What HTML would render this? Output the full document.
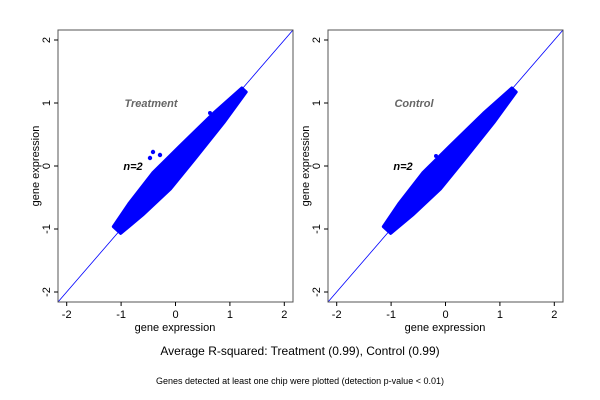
<!DOCTYPE html><html><head><style>body{margin:0;background:#fff}svg{display:block}text{font-family:"Liberation Sans",sans-serif}</style></head><body>
<svg width="600" height="400" viewBox="0 0 600 400">
<defs>
<clipPath id="c1"><rect x="58" y="30" width="235" height="272"/></clipPath>
<clipPath id="c2"><rect x="328" y="30" width="235" height="272"/></clipPath>
<g id="cloud">
<polygon fill="#0000ff" stroke="#0000ff" stroke-width="3" stroke-linejoin="round" points="113.3,226.6 129.3,203 152.6,173 179.5,146.3 213.4,113.3 241.8,88 246.2,92 223.8,122.7 194.3,159.7 170.4,189 142.7,215 120.7,233.4"/>
</g>
</defs>
<g font-size="11">
<!-- panel 1 -->
<line x1="58" y1="302" x2="293" y2="30" stroke="#0000ff" stroke-width="0.8" clip-path="url(#c1)"/>
<use href="#cloud"/>
<circle cx="150" cy="158" r="2.2" fill="#00f"/><circle cx="153" cy="152" r="2.2" fill="#00f"/><circle cx="160" cy="155" r="2.2" fill="#00f"/><circle cx="210" cy="113" r="2" fill="#00f"/>
<rect x="58" y="30" width="235" height="272" fill="none" stroke="#555"/>
<g stroke="#000"><line x1="66.7" y1="302" x2="66.7" y2="306"/><line x1="121.1" y1="302" x2="121.1" y2="306"/><line x1="175.5" y1="302" x2="175.5" y2="306"/><line x1="229.9" y1="302" x2="229.9" y2="306"/><line x1="284.3" y1="302" x2="284.3" y2="306"/>
<line x1="58" y1="40" x2="54" y2="40"/><line x1="58" y1="103" x2="54" y2="103"/><line x1="58" y1="166" x2="54" y2="166"/><line x1="58" y1="229" x2="54" y2="229"/><line x1="58" y1="292" x2="54" y2="292"/></g>
<g text-anchor="middle"><text x="66.7" y="318">-2</text><text x="121.1" y="318">-1</text><text x="175.5" y="318">0</text><text x="229.9" y="318">1</text><text x="284.3" y="318">2</text></g>
<g text-anchor="middle"><text transform="translate(50,40) rotate(-90)">2</text><text transform="translate(50,103) rotate(-90)">1</text><text transform="translate(50,166) rotate(-90)">0</text><text transform="translate(50,229) rotate(-90)">-1</text><text transform="translate(50,292) rotate(-90)">-2</text></g>
<text x="175" y="331" text-anchor="middle">gene expression</text>
<text transform="translate(39,166) rotate(-90)" text-anchor="middle">gene expression</text>
<text x="151" y="107" text-anchor="middle" font-weight="bold" font-style="italic" fill="#666">Treatment</text>
<text x="133" y="170" text-anchor="middle" font-weight="bold" font-style="italic">n=2</text>

<!-- panel 2 -->
<line x1="328" y1="302" x2="563" y2="30" stroke="#0000ff" stroke-width="0.8" clip-path="url(#c2)"/>
<use href="#cloud" transform="translate(270,0)"/>
<circle cx="436" cy="156" r="2" fill="#00f"/>
<rect x="328" y="30" width="235" height="272" fill="none" stroke="#555"/>
<g stroke="#000"><line x1="336.7" y1="302" x2="336.7" y2="306"/><line x1="391.1" y1="302" x2="391.1" y2="306"/><line x1="445.5" y1="302" x2="445.5" y2="306"/><line x1="499.9" y1="302" x2="499.9" y2="306"/><line x1="554.3" y1="302" x2="554.3" y2="306"/>
<line x1="328" y1="40" x2="324" y2="40"/><line x1="328" y1="103" x2="324" y2="103"/><line x1="328" y1="166" x2="324" y2="166"/><line x1="328" y1="229" x2="324" y2="229"/><line x1="328" y1="292" x2="324" y2="292"/></g>
<g text-anchor="middle"><text x="336.7" y="318">-2</text><text x="391.1" y="318">-1</text><text x="445.5" y="318">0</text><text x="499.9" y="318">1</text><text x="554.3" y="318">2</text></g>
<g text-anchor="middle"><text transform="translate(320,40) rotate(-90)">2</text><text transform="translate(320,103) rotate(-90)">1</text><text transform="translate(320,166) rotate(-90)">0</text><text transform="translate(320,229) rotate(-90)">-1</text><text transform="translate(320,292) rotate(-90)">-2</text></g>
<text x="445" y="331" text-anchor="middle">gene expression</text>
<text transform="translate(309,166) rotate(-90)" text-anchor="middle">gene expression</text>
<text x="414" y="107" text-anchor="middle" font-weight="bold" font-style="italic" fill="#666">Control</text>
<text x="403" y="170" text-anchor="middle" font-weight="bold" font-style="italic">n=2</text>
</g>
<text x="300" y="355" text-anchor="middle" font-size="12">Average R-squared: Treatment (0.99), Control (0.99)</text>
<text x="300" y="384" text-anchor="middle" font-size="9">Genes detected at least one chip were plotted (detection p-value &lt; 0.01)</text>
</svg></body></html>
